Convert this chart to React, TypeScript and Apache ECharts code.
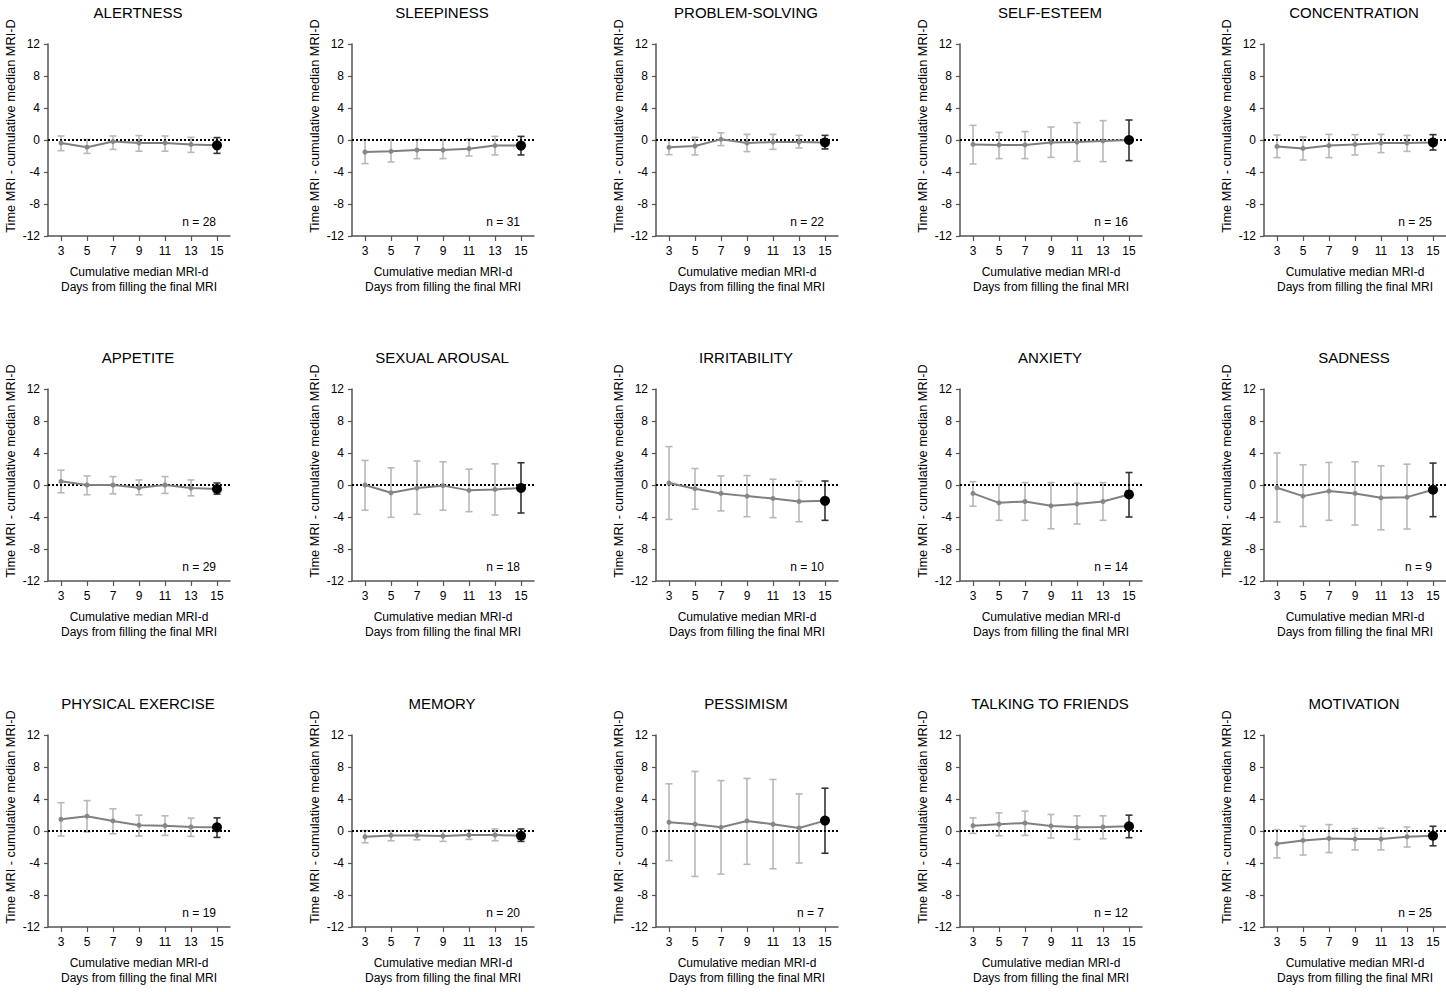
import React, { useEffect, useRef } from "react";
import * as echarts from "echarts";

// ---------- data ----------
const titles = [
  "ALERTNESS", "SLEEPINESS", "PROBLEM-SOLVING", "SELF-ESTEEM", "CONCENTRATION",
  "APPETITE", "SEXUAL AROUSAL", "IRRITABILITY", "ANXIETY", "SADNESS",
  "PHYSICAL EXERCISE", "MEMORY", "PESSIMISM", "TALKING TO FRIENDS", "MOTIVATION",
];
const nValues = [28, 31, 22, 16, 25, 29, 18, 10, 14, 9, 19, 20, 7, 12, 25];
const days = [3, 5, 7, 9, 11, 13, 15];

// median difference per day (one row per panel)
const medians = [
  [-0.37, -0.9, -0.2, -0.37, -0.37, -0.55, -0.67],
  [-1.5, -1.42, -1.25, -1.25, -1.08, -0.7, -0.7],
  [-0.92, -0.75, 0.08, -0.37, -0.25, -0.25, -0.3],
  [-0.55, -0.62, -0.62, -0.3, -0.25, -0.12, 0.0],
  [-0.8, -1.05, -0.7, -0.55, -0.37, -0.37, -0.3],
  [0.46, 0.0, 0.0, -0.34, 0.0, -0.38, -0.5],
  [0.0, -0.97, -0.38, -0.08, -0.67, -0.55, -0.38],
  [0.25, -0.46, -1.05, -1.39, -1.68, -2.06, -1.98],
  [-1.05, -2.23, -2.06, -2.6, -2.36, -2.06, -1.18],
  [-0.34, -1.39, -0.76, -1.05, -1.6, -1.52, -0.59],
  [1.47, 1.85, 1.26, 0.72, 0.67, 0.5, 0.46],
  [-0.72, -0.55, -0.55, -0.63, -0.5, -0.5, -0.59],
  [1.09, 0.84, 0.46, 1.26, 0.84, 0.38, 1.3],
  [0.67, 0.84, 1.0, 0.63, 0.46, 0.5, 0.59],
  [-1.6, -1.18, -0.93, -1.01, -1.01, -0.72, -0.59],
];
// lower end of error bars
const lowers = [
  [-1.33, -1.67, -1.17, -1.4, -1.4, -1.55, -1.67],
  [-2.95, -2.75, -2.33, -2.33, -2.0, -1.87, -1.87],
  [-1.83, -1.87, -0.7, -1.45, -1.17, -1.0, -1.12],
  [-3.0, -2.33, -2.33, -2.17, -2.67, -2.7, -2.58],
  [-2.2, -2.5, -2.2, -1.87, -1.58, -1.42, -1.25],
  [-0.97, -1.22, -1.1, -1.22, -1.05, -1.35, -1.14],
  [-3.16, -4.04, -3.66, -3.16, -3.33, -3.75, -3.5],
  [-4.3, -3.03, -3.24, -3.96, -4.08, -4.59, -4.42],
  [-2.65, -4.42, -4.42, -5.47, -4.88, -4.42, -4.0],
  [-4.63, -5.18, -4.42, -5.0, -5.6, -5.5, -3.96],
  [-0.63, -0.1, -0.34, -0.63, -0.55, -0.67, -0.8],
  [-1.47, -1.22, -1.1, -1.3, -1.05, -1.22, -1.3],
  [-3.7, -5.68, -5.39, -4.17, -4.72, -4.0, -2.78],
  [-0.3, -0.59, -0.55, -0.88, -1.05, -0.97, -0.84],
  [-3.37, -3.0, -2.7, -2.36, -2.36, -2.0, -1.85],
];
// upper end of error bars
const uppers = [
  [0.5, 0.05, 0.5, 0.55, 0.5, 0.33, 0.3],
  [0.05, 0.05, 0.05, 0.05, 0.1, 0.45, 0.45],
  [0.05, 0.33, 0.9, 0.7, 0.7, 0.58, 0.58],
  [1.83, 0.95, 1.05, 1.62, 2.17, 2.42, 2.5],
  [0.62, 0.37, 0.7, 0.67, 0.7, 0.58, 0.67],
  [1.85, 1.14, 1.05, 0.63, 1.05, 0.63, 0.25],
  [3.07, 2.15, 3.0, 2.9, 1.98, 2.65, 2.78],
  [4.8, 2.06, 1.14, 1.18, 0.72, 0.46, 0.5],
  [0.42, 0.05, 0.3, 0.3, 0.2, 0.3, 1.56],
  [4.0, 2.53, 2.82, 2.9, 2.4, 2.6, 2.74],
  [3.54, 3.8, 2.78, 1.98, 1.9, 1.6, 1.64],
  [0.05, 0.05, 0.05, 0.05, 0.13, 0.25, 0.25],
  [5.9, 7.45, 6.3, 6.57, 6.44, 4.63, 5.35],
  [1.64, 2.27, 2.48, 2.06, 1.9, 1.9, 1.98],
  [0.17, 0.59, 0.8, 0.3, 0.34, 0.5, 0.59],
];

const yAxisName = "Time MRI - cumulative median MRI-D";
const xAxisName = "Cumulative median MRI-d\nDays from filling the final MRI";

// ---------- layout ----------
const FONT = "'Liberation Sans', Arial, Helvetica, sans-serif";
const COL_LEFT = [48, 352, 656, 960, 1264];
const ROW_TOP = [44, 389, 735];
const GRID_W = 182;
const GRID_H = 192;

function buildOption() {
  const grid: any[] = [];
  const xAxis: any[] = [];
  const yAxis: any[] = [];
  const series: any[] = [];
  const title: any[] = [];
  const graphic: any[] = [];

  titles.forEach((name, i) => {
    const col = i % 5;
    const row = Math.floor(i / 5);
    const left = COL_LEFT[col];
    const top = ROW_TOP[row];
    grid.push({ left, top, width: GRID_W, height: GRID_H, outerBoundsMode: "none", containLabel: false });

    xAxis.push({
      gridIndex: i,
      type: "value",
      min: 2,
      max: 16,
      splitLine: { show: false },
      axisLine: { show: true, onZero: false, lineStyle: { color: "#555", width: 1.5 } },
      axisTick: { show: true, length: 5, customValues: days, lineStyle: { color: "#555", width: 1.2 } },
      axisLabel: { customValues: days, color: "#000", fontSize: 12, fontFamily: FONT, margin: 9 },
      name: xAxisName,
      nameLocation: "middle",
      nameGap: 29,
      nameTextStyle: { color: "#000", fontSize: 12, fontFamily: FONT, lineHeight: 14.5 },
    });
    yAxis.push({
      gridIndex: i,
      type: "value",
      min: -12,
      max: 12,
      interval: 4,
      splitLine: { show: false },
      axisLine: { show: true, onZero: false, lineStyle: { color: "#555", width: 1.5 } },
      axisTick: { show: true, length: 4, lineStyle: { color: "#555", width: 1.2 } },
      axisLabel: { color: "#000", fontSize: 12, fontFamily: FONT, margin: 8 },
    });

    title.push({
      text: name,
      left: left + GRID_W / 2 - 1,
      top: top - 39,
      textAlign: "center",
      padding: 0,
      textStyle: { color: "#000", fontSize: 15, fontWeight: "normal", fontFamily: FONT },
    });

    graphic.push({
      type: "text",
      x: left - 38,
      y: top + 82,
      rotation: Math.PI / 2,
      style: {
        text: yAxisName,
        fill: "#000",
        fontSize: 12.8,
        fontFamily: FONT,
        textAlign: "center",
        textVerticalAlign: "middle",
      },
    });
    graphic.push({
      type: "text",
      x: left + 168,
      y: top + 178,
      style: {
        text: "n = " + nValues[i],
        fill: "#000",
        fontSize: 12,
        fontFamily: FONT,
        textAlign: "right",
        textVerticalAlign: "middle",
      },
    });

    const last = days.length - 1;
    // error bars
    series.push({
      type: "custom",
      xAxisIndex: i,
      yAxisIndex: i,
      silent: true,
      z: 2,
      encode: { x: 0, y: [1, 2] },
      data: days.map((d, k) => [d, lowers[i][k], uppers[i][k]]),
      renderItem: (params: any, api: any) => {
        const x = api.value(0);
        const lo = api.coord([x, api.value(1)]);
        const hi = api.coord([x, api.value(2)]);
        const color = params.dataIndex === last ? "#333" : "#b8b8b8";
        const cap = 3.5;
        const style = { stroke: color, lineWidth: 1.6 };
        return {
          type: "group",
          children: [
            { type: "line", shape: { x1: lo[0], y1: lo[1], x2: hi[0], y2: hi[1] }, style },
            { type: "line", shape: { x1: lo[0] - cap, y1: lo[1], x2: lo[0] + cap, y2: lo[1] }, style },
            { type: "line", shape: { x1: hi[0] - cap, y1: hi[1], x2: hi[0] + cap, y2: hi[1] }, style },
          ],
        };
      },
    });
    // median line
    series.push({
      type: "line",
      xAxisIndex: i,
      yAxisIndex: i,
      z: 4,
      silent: true,
      symbol: "circle",
      symbolSize: 5,
      lineStyle: { color: "#808080", width: 2 },
      itemStyle: { color: "#868686" },
      data: days.map((d, k) =>
        k === last
          ? { value: [d, medians[i][k]], symbolSize: 10, itemStyle: { color: "#000" } }
          : { value: [d, medians[i][k]] }
      ),
      markLine: {
        silent: true,
        symbol: "none",
        label: { show: false },
        lineStyle: { color: "#000", type: [2, 2], width: 2 },
        data: [{ yAxis: 0 }],
        z: 3,
      },
    });
  });

  return {
    animation: false,
    backgroundColor: "#fff",
    title,
    grid,
    xAxis,
    yAxis,
    series,
    graphic,
  };
}

export default function App() {
  const ref = useRef<HTMLDivElement>(null);
  useEffect(() => {
    document.body.style.margin = "0";
    if (!ref.current) return;
    const chart = echarts.init(ref.current, undefined, { renderer: "svg" });
    chart.setOption(buildOption() as any);
    return () => chart.dispose();
  }, []);
  return <div ref={ref} style={{ width: 1446, height: 992 }} />;
}
